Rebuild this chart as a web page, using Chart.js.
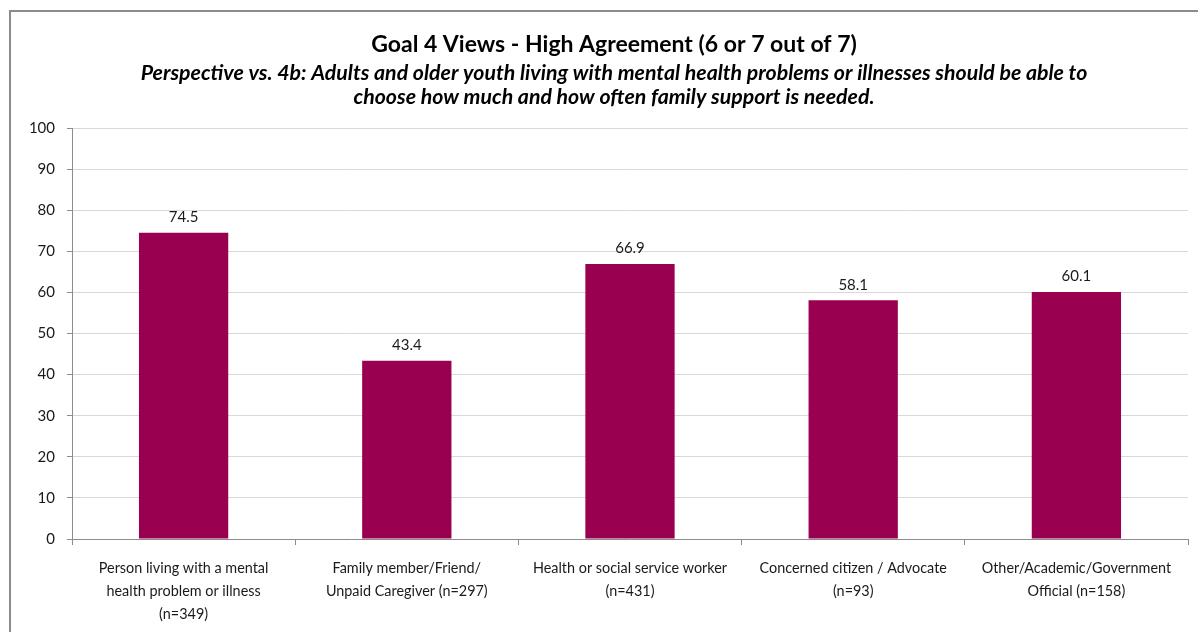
<!DOCTYPE html>
<html>
<head>
<meta charset="utf-8">
<script src="https://cdn.jsdelivr.net/npm/chart.js@4/dist/chart.umd.min.js"></script>
<style>
  html, body { margin: 0; padding: 0; background: #fff; overflow: hidden; }
  #wrap { position: relative; width: 1198px; height: 632px; }
  #frame { position: absolute; left: 9px; top: 10px; width: 1300px; height: 700px;
           border-left: 2px solid #8c8c8c; border-top: 2px solid #8c8c8c; box-sizing: border-box; }
  canvas { position: absolute; left: 0; top: 0; }
</style>
</head>
<body>
<div id="wrap">
  <div id="frame"></div>
  <canvas id="c" width="1198" height="632"></canvas>
</div>
<script>
const titleText = 'Goal 4 Views - High Agreement (6 or 7 out of 7)';
const subtitleLines = [
  'Perspective vs. 4b: Adults and older youth living with mental health problems or illnesses should be able to',
  'choose how much and how often family support is needed.'
];
const categories = [
  ['Person living with a mental', 'health problem or illness', '(n=349)'],
  ['Family member/Friend/', 'Unpaid Caregiver (n=297)'],
  ['Health or social service worker', '(n=431)'],
  ['Concerned citizen / Advocate', '(n=93)'],
  ['Other/Academic/Government', 'Official (n=158)']
];
const values = [74.5, 43.4, 66.9, 58.1, 60.1];
const yTicks = [0, 10, 20, 30, 40, 50, 60, 70, 80, 90, 100];

const FONT = "Lato, 'Liberation Sans', sans-serif";

const valueLabels = {
  id: 'valueLabels',
  afterDatasetsDraw(chart) {
    const ctx = chart.ctx;
    const meta = chart.getDatasetMeta(0);
    ctx.save();
    ctx.font = '15px ' + FONT;
    ctx.fillStyle = '#1a1a1a';
    ctx.textAlign = 'center';
    ctx.textBaseline = 'bottom';
    meta.data.forEach((bar, i) => {
      ctx.fillText(values[i].toFixed(1), bar.x, bar.y - 8);
    });
    ctx.restore();
  }
};

new Chart(document.getElementById('c'), {
  type: 'bar',
  data: {
    labels: categories,
    datasets: [{
      data: values,
      backgroundColor: '#990050',
      borderWidth: 0,
      categoryPercentage: 0.8,
      barPercentage: 0.5
    }]
  },
  options: {
    responsive: false,
    animation: false,
    layout: { padding: { left: 30, right: 0, top: 22, bottom: 0 } },
    plugins: {
      legend: { display: false },
      tooltip: { enabled: false },
      title: {
        display: true,
        text: titleText,
        color: '#000',
        font: { family: FONT, size: 23, weight: 'bold', lineHeight: 1.2 },
        padding: { top: 9.2, bottom: 1 }
      },
      subtitle: {
        display: true,
        text: subtitleLines,
        color: '#000',
        font: { family: FONT, size: 21.3, weight: 'bold', style: 'italic', lineHeight: 24 / 21.3 },
        padding: { top: 1.2, bottom: 19 }
      }
    },
    scales: {
      x: {
        afterFit(scale) { scale.height = 93; },
        grid: { display: true, drawOnChartArea: false, offset: true, tickLength: 6, tickColor: '#8c8c8c' },
        border: { color: '#8c8c8c', width: 1 },
        ticks: { color: '#1a1a1a', font: { family: FONT, size: 14.4, lineHeight: 23 / 14.4 }, padding: 12, maxRotation: 0, autoSkip: false }
      },
      y: {
        min: 0, max: 100,
        afterBuildTicks(scale) { scale.ticks = yTicks.map(v => ({ value: v })); },
        afterFit(scale) { scale.width = 42; },
        grid: { color: '#d9d9d9', tickColor: '#8c8c8c', tickLength: 5 },
        border: { color: '#8c8c8c', width: 1 },
        ticks: { color: '#1a1a1a', font: { family: FONT, size: 15 }, padding: 12 }
      },
      yRightSpacer: {
        type: 'linear',
        position: 'right',
        display: true,
        afterFit(scale) { scale.width = 10; },
        grid: { display: false, drawTicks: false },
        border: { display: false },
        ticks: { display: false }
      }
    }
  },
  plugins: [valueLabels]
});
</script>
</body>
</html>
